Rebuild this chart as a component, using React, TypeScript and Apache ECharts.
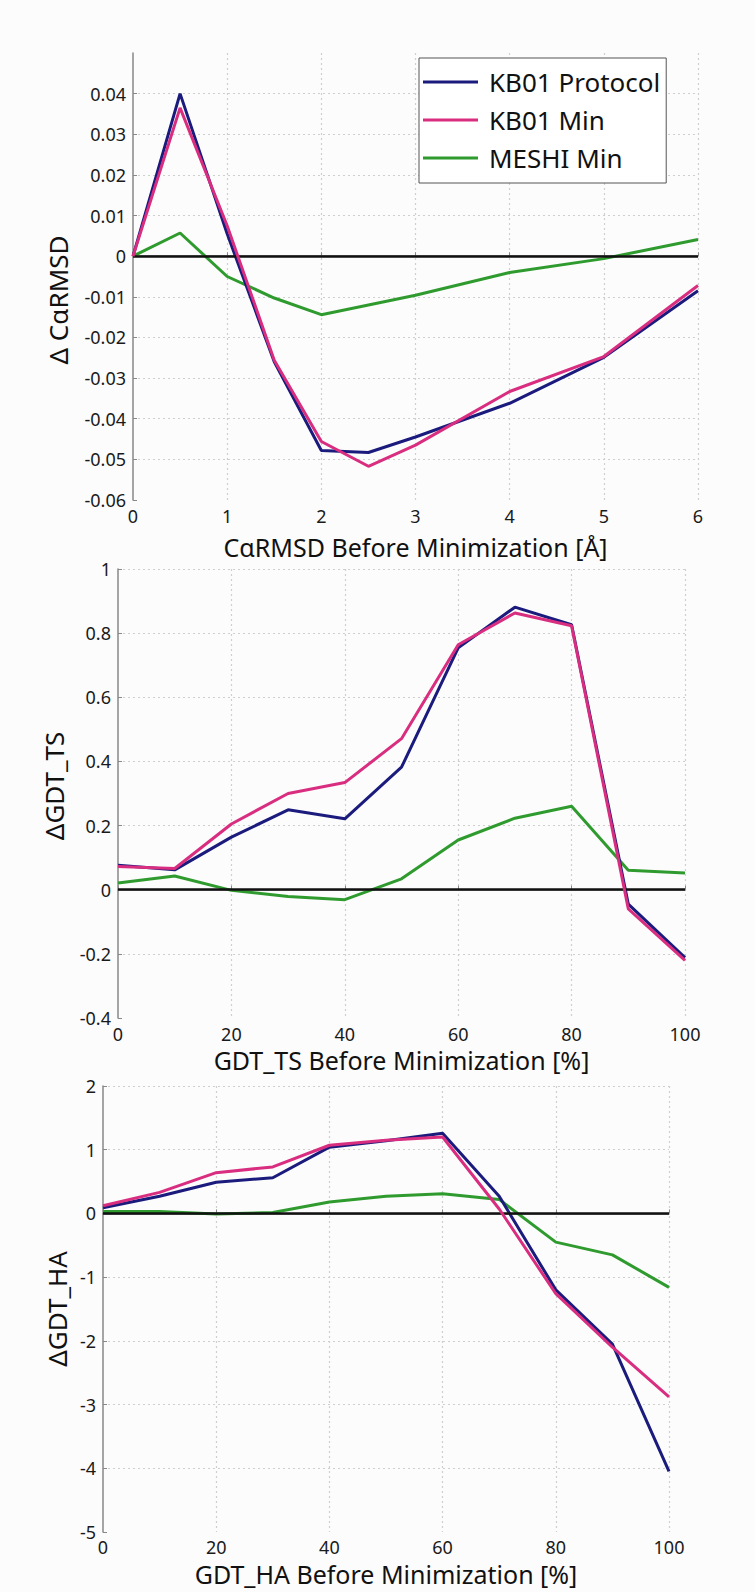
import React, { useEffect, useRef } from "react";
import * as echarts from "echarts";

// ---- Data ----
const SERIES_NAMES = ["KB01 Protocol", "KB01 Min", "MESHI Min"];

// Chart 1: Δ CαRMSD vs CαRMSD before minimization
const RMSD_X = [0, 0.5, 1, 1.5, 2, 2.5, 3, 4, 5, 6];
const RMSD_PROTOCOL = [0, 0.04, 0.0055, -0.026, -0.0478, -0.0483, -0.0445, -0.0362, -0.0249, -0.0085];
const RMSD_KBMIN = [0, 0.0365, 0.0075, -0.0256, -0.0456, -0.0517, -0.0465, -0.0333, -0.0247, -0.0072];
const RMSD_MESHI = [0, 0.0057, -0.005, -0.0103, -0.0144, -0.012, -0.0096, -0.004, -0.0006, 0.0041];

// Chart 2: ΔGDT_TS vs GDT_TS before minimization
const TS_X = [0, 10, 20, 30, 40, 50, 60, 70, 80, 90, 100];
const TS_PROTOCOL = [0.076, 0.062, 0.164, 0.249, 0.221, 0.382, 0.754, 0.881, 0.826, -0.045, -0.212];
const TS_KBMIN = [0.072, 0.066, 0.205, 0.3, 0.334, 0.471, 0.764, 0.863, 0.823, -0.06, -0.22];
const TS_MESHI = [0.021, 0.043, -0.002, -0.021, -0.031, 0.034, 0.155, 0.223, 0.26, 0.061, 0.052];

// Chart 3: ΔGDT_HA vs GDT_HA before minimization
const HA_X = [0, 10, 20, 30, 40, 50, 60, 70, 80, 90, 100];
const HA_PROTOCOL = [0.09, 0.27, 0.49, 0.56, 1.04, 1.14, 1.26, 0.27, -1.2, -2.05, -4.05];
const HA_KBMIN = [0.12, 0.33, 0.64, 0.73, 1.07, 1.15, 1.2, 0.07, -1.26, -2.1, -2.88];
const HA_MESHI = [0.03, 0.03, -0.01, 0.015, 0.18, 0.27, 0.31, 0.22, -0.45, -0.65, -1.16];

const AXIS_TITLES = {
  x: ["CαRMSD Before Minimization [Å]", "GDT_TS Before Minimization [%]", "GDT_HA Before Minimization [%]"],
  y: ["Δ CαRMSD", "ΔGDT_TS", "ΔGDT_HA"],
};

const COLORS = ["#1b1b7d", "#d92d80", "#2f9b2f"];
const FONT = '"Noto Sans", sans-serif';

export default function App() {
  const ref = useRef<HTMLDivElement>(null);

  useEffect(() => {
    if (!ref.current) return;
    const chart = echarts.init(ref.current, undefined, { renderer: "svg" });

    const grids = [
      { left: 133, right: 57, top: 53, height: 447 },
      { left: 118, right: 70, top: 569, height: 449 },
      { left: 103, right: 86, top: 1086, height: 446 },
    ];

    const axisLine = { show: true, lineStyle: { color: "#888", width: 1.5 } };
    const axisTick = { show: true, inside: true, length: 4, lineStyle: { color: "#888" } };
    const splitLine = { show: true, lineStyle: { color: "#cfcfcf", type: [2, 3], width: 1.2 } };
    const axisLabel = { color: "#1a1a1a", fontSize: 18, lineHeight: 18, fontFamily: FONT, margin: 7 };
    const nameTextStyle = { color: "#111", fontSize: 25, lineHeight: 24, fontFamily: FONT };

    const xRanges = [
      { min: 0, max: 6, interval: 1 },
      { min: 0, max: 100, interval: 20 },
      { min: 0, max: 100, interval: 20 },
    ];
    const yRanges = [
      { min: -0.06, max: 0.05, interval: 0.01 },
      { min: -0.4, max: 1, interval: 0.2 },
      { min: -5, max: 2, interval: 1 },
    ];
    const nameGaps = [35, 30, 30];
    const xMargins = [7, 7, 6];
    const yFormat = [
      (v: number) => String(Math.round(v * 100) / 100),
      (v: number) => String(Math.round(v * 10) / 10),
      (v: number) => String(Math.round(v)),
    ];

    const xAxis = xRanges.map((r, i) => ({
      type: "value",
      gridIndex: i,
      ...r,
      name: AXIS_TITLES.x[i],
      nameLocation: "middle",
      nameGap: nameGaps[i],
      nameTextStyle,
      axisLine,
      axisTick,
      splitLine: { ...splitLine, showMinLine: false },
      axisLabel: { ...axisLabel, margin: xMargins[i] },
    }));

    const yAxis = yRanges.map((r, i) => ({
      type: "value",
      gridIndex: i,
      ...r,
      axisLine,
      axisTick,
      splitLine: { ...splitLine, showMinLine: false, showMaxLine: i !== 0 },
      axisLabel: { ...axisLabel, showMaxLabel: i !== 0, formatter: yFormat[i] },
    }));

    const sets = [
      [RMSD_X, [RMSD_PROTOCOL, RMSD_KBMIN, RMSD_MESHI]],
      [TS_X, [TS_PROTOCOL, TS_KBMIN, TS_MESHI]],
      [HA_X, [HA_PROTOCOL, HA_KBMIN, HA_MESHI]],
    ] as [number[], number[][]][];

    const series: any[] = [];
    sets.forEach(([xs, ys], gi) => {
      // zero reference line
      series.push({
        type: "line",
        name: "zero" + gi,
        xAxisIndex: gi,
        yAxisIndex: gi,
        data: [],
        silent: true,
        z: 1,
        markLine: {
          silent: true,
          symbol: ["none", "none"],
          label: { show: false },
          lineStyle: { color: "#111", width: 2.5, type: "solid" },
          data: [{ yAxis: 0 }],
        },
      });
      ys.forEach((vals, si) => {
        series.push({
          type: "line",
          name: SERIES_NAMES[si],
          xAxisIndex: gi,
          yAxisIndex: gi,
          data: xs.map((x, k) => [x, vals[k]]),
          symbol: "none",
          z: 3 + (si === 2 ? 0 : si === 1 ? 2 : 1),
          lineStyle: { color: COLORS[si], width: 3 },
          itemStyle: { color: COLORS[si] },
        });
      });
    });

    const yTitlePos = [
      [58, 300],
      [54, 786],
      [57, 1309],
    ];

    chart.setOption({
      animation: false,
      backgroundColor: "#fcfcfc",
      grid: grids,
      xAxis,
      yAxis,
      legend: {
        data: SERIES_NAMES,
        orient: "vertical",
        left: 419,
        top: 58,
        padding: [9, 6, 10, 4],
        itemGap: 8,
        itemWidth: 55,
        itemHeight: 3,
        icon: "rect",
        backgroundColor: "#ffffff",
        borderColor: "#555",
        borderWidth: 1,
        selectedMode: false,
        textStyle: {
          fontSize: 26,
          fontFamily: FONT,
          color: "#111",
          lineHeight: 30,
          padding: [0, 0, 0, 6],
        },
      },
      graphic: AXIS_TITLES.y.map((t, i) => ({
        type: "text",
        x: yTitlePos[i][0],
        y: yTitlePos[i][1],
        rotation: Math.PI / 2,
        style: {
          text: t,
          font: `26px ${FONT}`,
          fill: "#111",
          align: "center",
          verticalAlign: "middle",
        },
      })),
      series,
    });

    return () => chart.dispose();
  }, []);

  return (
    <div
      ref={ref}
      style={{ position: "absolute", left: 0, top: 0, width: 755, height: 1592 }}
    />
  );
}
